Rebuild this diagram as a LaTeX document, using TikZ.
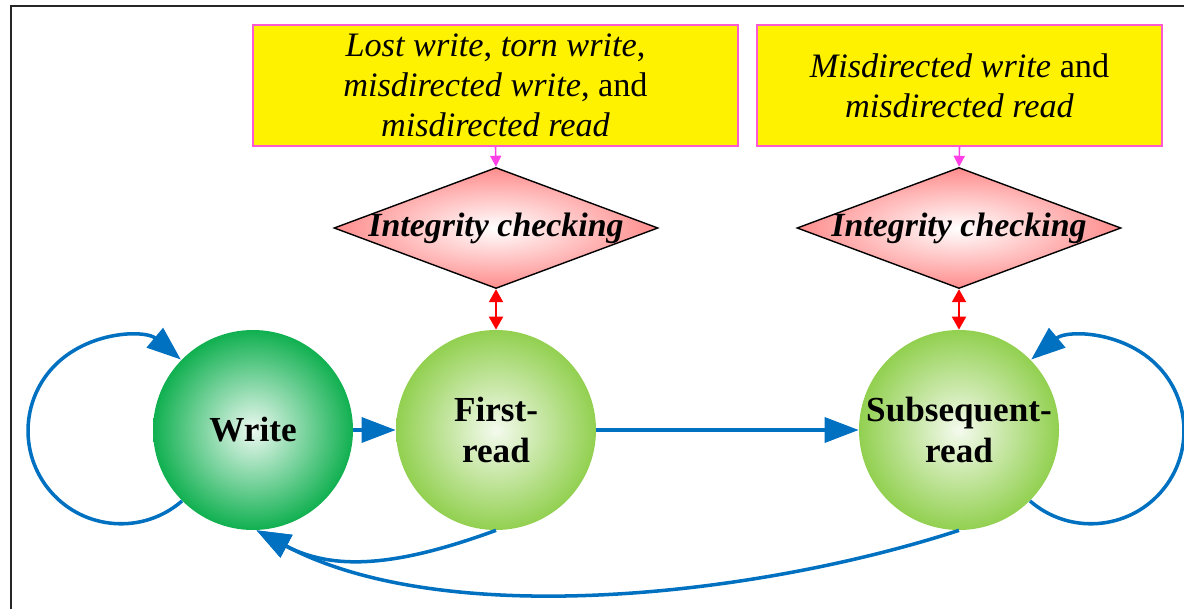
\documentclass[tikz,border=0pt]{standalone}
\usepackage{fontspec}
\setmainfont{Liberation Serif}
\usetikzlibrary{arrows.meta,shapes.geometric}
\definecolor{flowblue}{RGB}{0,112,192}
\definecolor{boxpink}{RGB}{255,90,210}
\definecolor{feedmagenta}{RGB}{255,64,230}
\definecolor{writegreen}{RGB}{16,176,80}
\definecolor{readgreen}{RGB}{146,208,80}
\definecolor{checkpink}{RGB}{255,140,140}

\begin{document}
\begin{tikzpicture}[
  every label/.style={align=center, inner sep=0pt},
  fault/.style={draw=boxpink, line width=1.1pt, fill=yellow, minimum height=2.42cm, align=center, font=\fontsize{19.5}{22.8}\selectfont},
  check/.style={diamond, draw=black, line width=0.8pt, inner sep=0pt, minimum width=6.48cm, minimum height=2.42cm, inner color=white, outer color=checkpink},
  checktext/.style={font=\fontsize{19.3}{22.8}\selectfont\bfseries\itshape},
  ball/.style={circle, minimum size=4cm, inner sep=0pt, inner color=readgreen!10, outer color=readgreen},
  balltext/.style={font=\fontsize{20}{22.8}\selectfont\bfseries},
  flow/.style={flowblue, line width=2pt, -{Triangle[length=0.68cm, width=0.5cm]}},
  feed/.style={feedmagenta, line width=0.9pt, -{Triangle[length=0.22cm, width=0.22cm]}},
  verify/.style={red, line width=1.2pt, {Triangle[length=0.26cm, width=0.28cm]}-{Triangle[length=0.26cm, width=0.28cm]}}
]
  \useasboundingbox (0,0) rectangle (23.68,12.18);
  % frame
  \draw[black!85, line width=1.2pt] (0.22,0) -- (0.22,12.06) -- (23.68,12.06);

  % fault boxes
  \node[fault, minimum width=9.7cm] (fault1) at (9.91,10.47) {\textit{Lost write}, \textit{torn write},\\ \textit{misdirected write}, and\\ \textit{misdirected read}};
  \node[fault, minimum width=8.1cm] (fault2) at (19.19,10.47) {\textit{Misdirected write} and\\ \textit{misdirected read}};

  % integrity checks
  \node[check, label={[checktext]center:Integrity checking}] (check1) at (9.92,7.62) {};
  \node[check, label={[checktext]center:Integrity checking}] (check2) at (19.18,7.62) {};

  % states
  \node[ball, inner color=writegreen!8, outer color=writegreen, label={[balltext]center:Write}] (write) at (5.06,3.58) {};
  \node[ball, label={[balltext]center:First-\\read}] (first) at (9.92,3.58) {};
  \node[ball, label={[balltext]center:Subsequent-\\read}] (subseq) at (19.18,3.58) {};

  \draw[feed] (fault1.south) -- (check1.north);
  \draw[feed] (fault2.south) -- (check2.north);
  \draw[verify] (check1.south) -- (first.north);
  \draw[verify] (check2.south) -- (subseq.north);

  \draw[flow] (write) -- (first);
  \draw[flow] (first) -- (subseq);
  \draw[flow] (write.-135) arc[start angle=-49, end angle=-310, radius=1.86];
  \draw[flow] (subseq.-45) arc[start angle=229, end angle=490, radius=1.86];
  \draw[flow] (first.-90) to[out=200, in=-28] (write.-88);
  \draw[flow] (subseq.-90) to[out=198, in=-28, looseness=0.78] (write.-88);
\end{tikzpicture}
\end{document}
